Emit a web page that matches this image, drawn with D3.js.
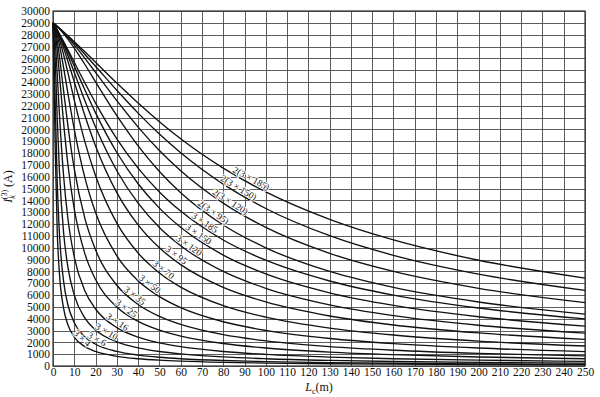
<!DOCTYPE html>
<html>
<head>
<meta charset="utf-8">
<script src="https://cdn.jsdelivr.net/npm/d3@7"></script>
<style>
  body { margin: 0; background: #fff; }
  svg, svg text { font-family: "Liberation Serif", "DejaVu Serif", serif; }
  .grid line { stroke: #4a4a4a; stroke-width: 0.9; shape-rendering: crispEdges; }
  .grid .domain { display: none; }
  .grid .tick text { font-size: 11.5px; fill: #111; font-family: "Liberation Serif", serif; }
  .curve { fill: none; stroke: #111; stroke-width: 1.35; }
  .curve-label { font-size: 9.5px; fill: #111; stroke: #fff; stroke-width: 1.8px; paint-order: stroke; }
</style>
</head>
<body>
<div id="chart"></div>
<script>
// cable length along the bottom (m)
const lengths = [0, 1, 2, 3, 5, 7, 10, 15, 20, 30, 40, 50, 60, 80, 100, 130, 160, 200, 250];

// three phase short circuit current (A)
const c3x4    = [29000,18680,11290,7870,4843,3485,2449,1636,1228,819,615,492,410,307,246,189,154,123,98];
const c3x6    = [29000,22660,15480,11280,7134,5177,3656,2449,1841,1229,922,738,615,461,369,284,231,185,148];
const c3x10   = [29000,26020,20870,16570,11236,8357,5988,4046,3050,2041,1533,1227,1023,768,614,473,384,307,246];
const c3x16   = [29000,27560,24610,21350,16010,12466,9209,6341,4816,3241,2440,1956,1631,1225,981,755,613,491,393];
const c3x25   = [29000,28220,26660,24660,20520,17030,13250,9473,7306,4982,3769,3029,2530,1903,1525,1174,955,764,612];
const c3x35   = [29000,28460,27490,26200,23230,20320,16650,12450,9817,6821,5201,4196,3514,2650,2126,1639,1334,1068,855];
const c3x50   = [29000,28590,27960,27150,25190,23060,20000,15900,12970,9310,7205,5859,4930,3738,3007,2324,1894,1518,1216];
const c3x70   = [29000,28650,28190,27620,26290,24790,22470,18940,16070,12070,9548,7866,6671,5104,4127,3203,2616,2101,1686];
const c3x95   = [29000,28680,28300,27860,26870,25760,24010,21150,18600,14650,11920,9987,8566,6643,5412,4228,3466,2793,2246];
const c3x120  = [29000,28690,28350,27970,27140,26240,24810,22420,20190,16500,13760,11710,10160,7992,6566,5167,4255,3442,2776];
const c3x150  = [29000,28700,28380,28030,27310,26540,25340,23320,21390,18040,15400,13340,11720,9372,7781,6183,5121,4163,3371];
const c3x185  = [29000,28700,28400,28070,27410,26720,25670,23910,22220,19200,16720,14710,13090,10650,8939,7183,5990,4898,3985];
const c2x3x95  = [29000,28850,28680,28490,28080,27630,26870,25480,24010,21150,18600,16440,14650,11920,9987,7992,6643,5412,4388];
const c2x3x120 = [29000,28850,28690,28520,28160,27770,27140,26000,24810,22420,20190,18210,16500,13760,11710,9520,7992,6566,5359];
const c2x3x150 = [29000,28855,28700,28540,28210,27860,27310,26330,25330,23300,21370,19600,18020,15370,13310,11010,9350,7760,6384];
const c2x3x185 = [29000,28856,28705,28550,28235,27910,27410,26550,25670,23910,22220,20650,19200,16720,14710,12390,10650,8939,7427];

const cableNames = ["3 × 4","3 × 6","3 × 10","3 × 16","3 × 25","3 × 35","3 × 50","3 × 70","3 × 95",
  "3 × 120","3 × 150","3 × 185","2(3 × 95)","2(3 × 120)","2(3 × 150)","2(3 × 185)"];
const cableValues = [c3x4,c3x6,c3x10,c3x16,c3x25,c3x35,c3x50,c3x70,c3x95,
  c3x120,c3x150,c3x185,c2x3x95,c2x3x120,c2x3x150,c2x3x185];
// where along each curve its name is written (m)
const labelAt = [12, 19.5, 24, 29, 33, 37, 44, 50.5, 56.5, 62.5, 67, 70, 74, 82, 86, 92];

const xTicks = d3.range(0, 251, 10);
const yTicks = d3.range(0, 30001, 1000);

const width = 600, height = 397;
const margin = {top: 11, right: 15, bottom: 31, left: 53};

const x = d3.scaleLinear().domain([0, 250]).range([margin.left, width - margin.right]);
const y = d3.scaleLinear().domain([0, 30000]).range([height - margin.bottom, margin.top]);

const svg = d3.select('#chart').append('svg')
  .attr('width', width).attr('height', height);

// grid + tick labels
svg.append('g')
  .attr('class', 'grid')
  .attr('transform', `translate(0,${height - margin.bottom})`)
  .call(d3.axisBottom(x).tickValues(xTicks).tickFormat(d3.format('d'))
    .tickSize(-(height - margin.top - margin.bottom)).tickPadding(3))
  .attr('font-family', null)
  .selectAll('.tick text').attr('dy', '0.62em');

svg.append('g')
  .attr('class', 'grid')
  .attr('transform', `translate(${margin.left},0)`)
  .call(d3.axisLeft(y).tickValues(yTicks).tickFormat(d3.format('d'))
    .tickSize(-(width - margin.left - margin.right)).tickPadding(3))
  .attr('font-family', null);

// frame
svg.append('rect')
  .attr('x', margin.left).attr('y', margin.top)
  .attr('width', width - margin.left - margin.right)
  .attr('height', height - margin.top - margin.bottom)
  .attr('fill', 'none').attr('stroke', '#333').attr('stroke-width', 1.2);

const line = d3.line()
  .x((d, i) => x(lengths[i]))
  .y(d => y(d))
  .curve(d3.curveMonotoneX);

const paths = svg.append('g').selectAll('path')
  .data(cableValues)
  .join('path')
  .attr('class', 'curve')
  .attr('d', line);

// names written along the curves
const labels = svg.append('g');
paths.each(function (vals, i) {
  const node = this;
  const total = node.getTotalLength();
  const tx = x(labelAt[i]);
  let lo = 0, hi = total;
  for (let k = 0; k < 40; k++) {
    const mid = (lo + hi) / 2;
    if (node.getPointAtLength(mid).x < tx) lo = mid; else hi = mid;
  }
  const p = node.getPointAtLength(lo);
  const a = node.getPointAtLength(Math.max(0, lo - 4));
  const b = node.getPointAtLength(Math.min(total, lo + 4));
  const ang = Math.atan2(b.y - a.y, b.x - a.x);
  const off = 2;
  labels.append('text')
    .attr('class', 'curve-label')
    .attr('text-anchor', 'middle')
    .attr('transform', `translate(${p.x + Math.sin(ang) * off},${p.y - Math.cos(ang) * off}) rotate(${ang * 180 / Math.PI})`)
    .text(cableNames[i]);
});

// axis titles
const yt = svg.append('text')
  .attr('transform', `translate(12,${(margin.top + height - margin.bottom) / 2 - 2}) rotate(-90)`)
  .attr('text-anchor', 'middle')
  .attr('font-size', 12).attr('fill', '#111');
yt.append('tspan').attr('font-style', 'italic').text('I');
yt.append('tspan').attr('font-size', 8).attr('dy', 3).attr('font-style', 'italic').text('k');
yt.append('tspan').attr('font-size', 8).attr('dx', -4).attr('dy', -8).text('(3)');
yt.append('tspan').attr('dy', 5).text(' (A)');

const xt = svg.append('text')
  .attr('x', x(125)).attr('y', 391)
  .attr('text-anchor', 'middle')
  .attr('font-size', 12).attr('fill', '#111');
xt.append('tspan').attr('font-style', 'italic').text('L');
xt.append('tspan').attr('font-size', 8).attr('dy', 3).text('c');
xt.append('tspan').attr('dy', -3).text('(m)');
</script>
</body>
</html>
